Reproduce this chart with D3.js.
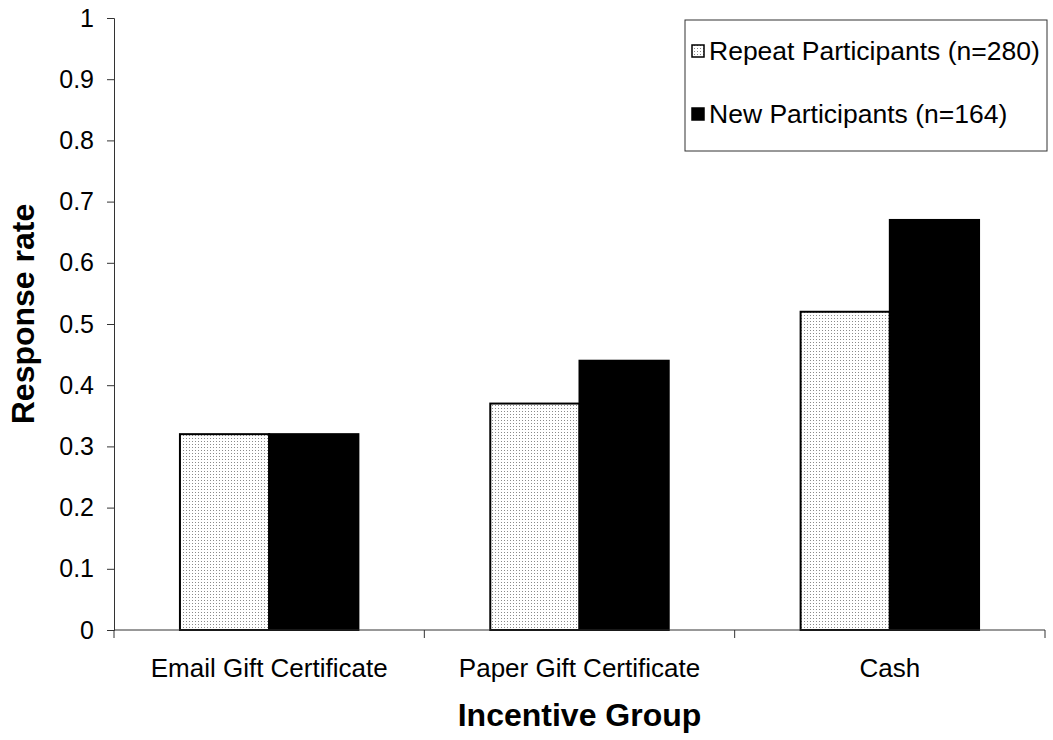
<!DOCTYPE html>
<html>
<head>
<meta charset="utf-8">
<script src="https://cdn.jsdelivr.net/npm/d3@7"></script>
<style>
  body { margin: 0; background: #fff; }
  svg text { font-family: "Liberation Sans", Arial, sans-serif; fill: #000; }
</style>
</head>
<body>
<div id="chart"></div>
<script>
// data
const categories = ['Email Gift Certificate', 'Paper Gift Certificate', 'Cash'];
const seriesNames = ['Repeat Participants (n=280)', 'New Participants (n=164)'];
const repeatRates = [0.32, 0.37, 0.52];
const newRates = [0.32, 0.44, 0.67];
const yTicks = [0, 0.1, 0.2, 0.3, 0.4, 0.5, 0.6, 0.7, 0.8, 0.9, 1];

const W = 1053, H = 740;
const margin = { top: 18, right: 8, bottom: 110, left: 114 };
const width = W - margin.left - margin.right;
const height = H - margin.top - margin.bottom;

const svg = d3.select('#chart').append('svg')
  .attr('width', W).attr('height', H);

// dotted fill for the repeat series
const defs = svg.append('defs');
const pat = defs.append('pattern').attr('id', 'dots')
  .attr('patternUnits', 'userSpaceOnUse').attr('width', 3).attr('height', 3);
pat.append('rect').attr('width', 3).attr('height', 3).attr('fill', '#fff');
pat.append('rect').attr('width', 1).attr('height', 1).attr('fill', '#8a8a8a');

const g = svg.append('g').attr('transform', `translate(${margin.left},${margin.top})`);

const x0 = d3.scaleBand().domain(categories).range([0, width]).paddingInner(0).paddingOuter(0);
const x1 = d3.scaleBand().domain([0, 1]).range([0, x0.bandwidth() * 0.575]).padding(0);
const groupOffset = (x0.bandwidth() - x1.range()[1]) / 2;
const y = d3.scaleLinear().domain([0, 1]).range([height, 0]);

const fills = ['url(#dots)', '#000'];
const seriesVals = [repeatRates, newRates];

// bars
seriesVals.forEach((vals, s) => {
  g.selectAll('.bar-' + s).data(vals).enter().append('rect')
    .attr('class', 'bar-' + s)
    .attr('x', (d, i) => x0(categories[i]) + groupOffset + x1(s))
    .attr('y', d => y(d))
    .attr('width', x1.bandwidth())
    .attr('height', d => y(0) - y(d))
    .attr('fill', fills[s])
    .attr('stroke', '#000')
    .attr('stroke-width', 2);
});

// y axis
const yAxis = g.append('g').attr('class', 'axis y-axis')
  .call(d3.axisLeft(y).tickValues(yTicks).tickSize(7).tickPadding(13)
    .tickFormat(d => d3.format('~g')(d)));
yAxis.select('.domain').attr('stroke', '#333');
yAxis.selectAll('.tick line').attr('stroke', '#333');
yAxis.selectAll('text').attr('font-size', null).style('font-size', '25px');

// x axis: ticks between categories
const xAxis = g.append('g').attr('class', 'axis x-axis').attr('transform', `translate(0,${height})`);
xAxis.append('line').attr('x1', 0).attr('x2', width).attr('stroke', '#333');
const boundaries = categories.map(c => x0(c)).concat([width]);
xAxis.selectAll('.xt').data(boundaries).enter().append('line')
  .attr('x1', d => d).attr('x2', d => d).attr('y1', 0).attr('y2', 8)
  .attr('stroke', '#333');
xAxis.selectAll('.xl').data(categories).enter().append('text')
  .attr('x', d => x0(d) + x0.bandwidth() / 2)
  .attr('y', 47)
  .attr('text-anchor', 'middle')
  .style('font-size', '26px')
  .text(d => d);

// axis titles
svg.append('text')
  .attr('transform', `translate(34,314) rotate(-90)`)
  .attr('text-anchor', 'middle')
  .style('font-size', '32px').style('font-weight', 'bold')
  .text('Response rate');
svg.append('text')
  .attr('x', margin.left + width / 2).attr('y', 726)
  .attr('text-anchor', 'middle')
  .style('font-size', '32px').style('font-weight', 'bold')
  .text('Incentive Group');

// legend
const legend = svg.append('g').attr('transform', 'translate(685,20)');
legend.append('rect').attr('width', 362).attr('height', 131)
  .attr('fill', '#fff').attr('stroke', '#333').attr('stroke-width', 1);
seriesNames.forEach((name, i) => {
  const row = legend.append('g').attr('transform', `translate(0,${31 + i * 63})`);
  row.append('rect').attr('x', 7).attr('y', -6).attr('width', 12).attr('height', 12)
    .attr('fill', fills[i]).attr('stroke', '#000').attr('stroke-width', 1.5);
  row.append('text').attr('x', 24).attr('y', 0).attr('dy', '0.35em')
    .style('font-size', '26.5px').text(name);
});
</script>
</body>
</html>
